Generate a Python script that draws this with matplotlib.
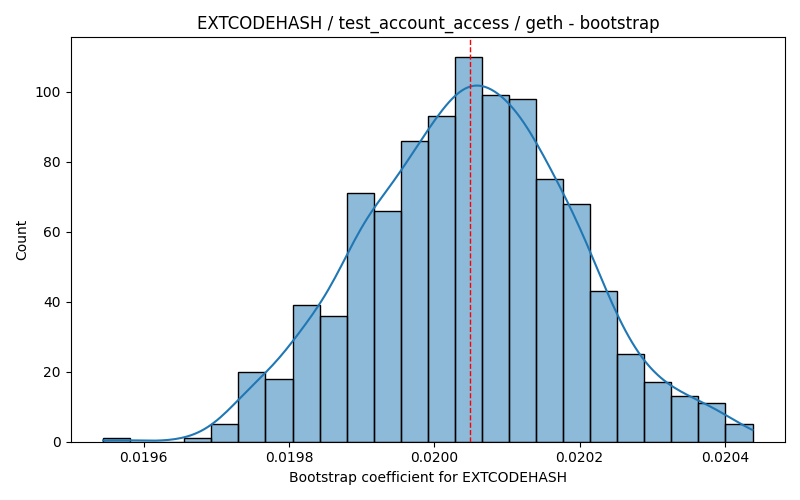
import numpy as np
import matplotlib
matplotlib.use("Agg")
import matplotlib.pyplot as plt
import seaborn as sns

# Data
data_min = 0.0195442
data_max = 0.0204379
n_bins = 24
counts = [1, 0, 0, 1, 5, 20, 18, 39, 36, 71, 66, 86,
          93, 110, 99, 98, 75, 68, 43, 25, 17, 13, 11, 5]
ref_value = 0.0200488

title = "EXTCODEHASH / test_account_access / geth - bootstrap"
xlabel = "Bootstrap coefficient for EXTCODEHASH"
ylabel = "Count"

edges = np.linspace(data_min, data_max, n_bins + 1)
centers = (edges[:-1] + edges[1:]) / 2
samples = np.repeat(centers, counts)

fig, ax = plt.subplots(figsize=(8, 5), dpi=100)
sns.histplot(x=samples, bins=list(edges), alpha=0.5, ax=ax)

# Gaussian KDE (Scott's rule) scaled to counts, over the data range
n = samples.size
bw = samples.std(ddof=1) * n ** (-1 / 5)
grid = np.linspace(data_min, data_max, 200)
dens = np.exp(-0.5 * ((grid[:, None] - samples[None, :]) / bw) ** 2).sum(axis=1)
dens /= (n * bw * np.sqrt(2 * np.pi))
binw = edges[1] - edges[0]
ax.plot(grid, dens * n * binw, color="C0", linewidth=1.5)

ax.axvline(ref_value, color="red", linestyle="--", linewidth=1)
ax.set_title(title)
ax.set_xlabel(xlabel)
ax.set_ylabel(ylabel)
fig.tight_layout()
fig.savefig("out.png", dpi=100)
